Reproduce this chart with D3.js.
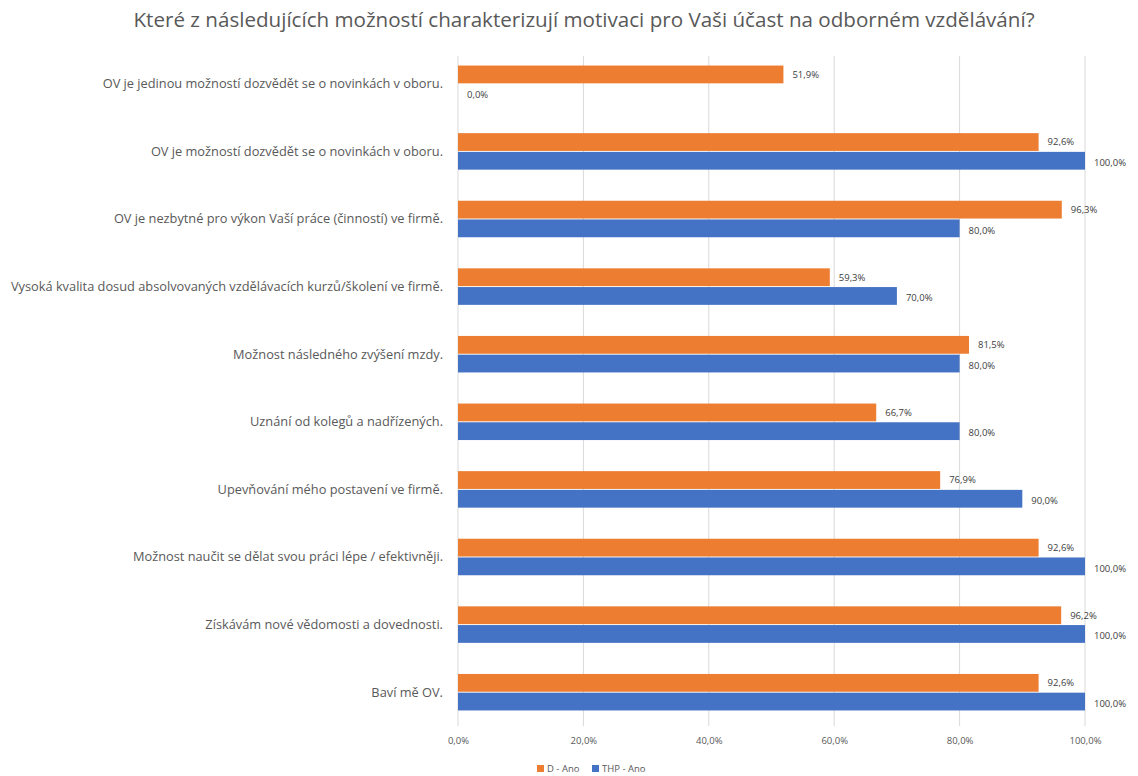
<!DOCTYPE html>
<html>
<head>
<meta charset="utf-8">
<script src="https://cdn.jsdelivr.net/npm/d3@7/dist/d3.min.js"></script>
<style>
  html, body { margin: 0; padding: 0; background: #fff; }
  svg text { font-family: "Open Sans", "Noto Sans", sans-serif; }
</style>
</head>
<body>
<svg id="chart" width="1138" height="776"></svg>
<script>
const categories = [
  "OV je jedinou možností dozvědět se o novinkách v oboru.",
  "OV je možností dozvědět se o novinkách v oboru.",
  "OV je nezbytné pro výkon Vaší práce (činností) ve firmě.",
  "Vysoká kvalita dosud absolvovaných vzdělávacích kurzů/školení ve firmě.",
  "Možnost následného zvýšení mzdy.",
  "Uznání od kolegů a nadřízených.",
  "Upevňování mého postavení ve firmě.",
  "Možnost naučit se dělat svou práci lépe / efektivněji.",
  "Získávám nové vědomosti a dovednosti.",
  "Baví mě OV."
];
const seriesNames = ["D - Ano", "THP - Ano"];
const dAno   = [51.9, 92.6, 96.3, 59.3, 81.5, 66.7, 76.9, 92.6, 96.2, 92.6];
const thpAno = [0.0, 100.0, 80.0, 70.0, 80.0, 80.0, 90.0, 100.0, 100.0, 100.0];
const xTicks = [0, 20, 40, 60, 80, 100];
const title = "Které z následujících možností charakterizují motivaci pro Vaši účast na odborném vzdělávání?";
const colors = ["#ED7D31", "#4472C4"];

const svg = d3.select("#chart");
const margin = { top: 50, right: 53, bottom: 50, left: 458 };
const W = 1138, H = 776;
const plotW = W - margin.left - margin.right;
const plotTop = 50, plotBottom = 726;

const fmt = v => d3.format(".1f")(v).replace(".", ",") + "%";

const x = d3.scaleLinear().domain([0, 100]).range([margin.left, margin.left + plotW]);
const y = d3.scaleBand().domain(categories).range([plotTop, plotBottom]).paddingInner(0.46).paddingOuter(0.23);
const sub = d3.scaleBand().domain(seriesNames).range([0, y.bandwidth()]).paddingInner(0.05);

// title
svg.append("text")
  .attr("x", 584).attr("y", 27)
  .attr("text-anchor", "middle")
  .attr("font-size", 20.6)
  .attr("fill", "#595959")
  .text(title);

// vertical gridlines
svg.append("g").selectAll("line").data(xTicks).join("line")
  .attr("x1", d => x(d)).attr("x2", d => x(d))
  .attr("y1", plotTop + 6).attr("y2", plotBottom)
  .attr("stroke", "#d9d9d9").attr("stroke-width", 1);

// x axis tick labels
const xAxis = d3.axisBottom(x).tickValues(xTicks).tickSize(0).tickFormat(d => d3.format(".1f")(d).replace(".", ",") + "%");
const gx = svg.append("g").attr("transform", `translate(0,${plotBottom + 8})`).call(xAxis);
gx.select(".domain").remove();
gx.selectAll("text").attr("font-size", 9.5).attr("fill", "#595959").attr("font-family", "Open Sans");

// category labels
svg.append("g").selectAll("text").data(categories).join("text")
  .attr("x", margin.left - 15)
  .attr("y", d => y(d) + y.bandwidth() / 2)
  .attr("dy", "0.35em")
  .attr("text-anchor", "end")
  .attr("font-size", 12.8)
  .attr("fill", "#595959")
  .text(d => d);

const series = [dAno, thpAno];
series.forEach((vals, si) => {
  const g = svg.append("g");
  g.selectAll("rect").data(vals).join("rect")
    .attr("x", x(0))
    .attr("y", (d, i) => y(categories[i]) + sub(seriesNames[si]))
    .attr("width", d => x(d) - x(0))
    .attr("height", sub.bandwidth())
    .attr("fill", colors[si]);
  g.selectAll("text").data(vals).join("text")
    .attr("x", d => x(d) + 9)
    .attr("y", (d, i) => y(categories[i]) + sub(seriesNames[si]) + sub.bandwidth() / 2 + (si === 1 ? 2 : 0))
    .attr("dy", "0.35em")
    .attr("font-size", 9.5)
    .attr("fill", "#404040")
    .text(d => fmt(d));
});

// legend
const legend = svg.append("g").attr("transform", "translate(537,769)");
const items = legend.selectAll("g").data(seriesNames).join("g")
  .attr("transform", (d, i) => `translate(${i * 55},0)`);
items.append("rect").attr("x", 0).attr("y", -4).attr("width", 7).attr("height", 7)
  .attr("fill", (d, i) => colors[i]);
items.append("text").attr("x", 10).attr("y", 0).attr("dy", "0.35em")
  .attr("font-size", 9.5).attr("fill", "#595959").text(d => d);
</script>
</body>
</html>
